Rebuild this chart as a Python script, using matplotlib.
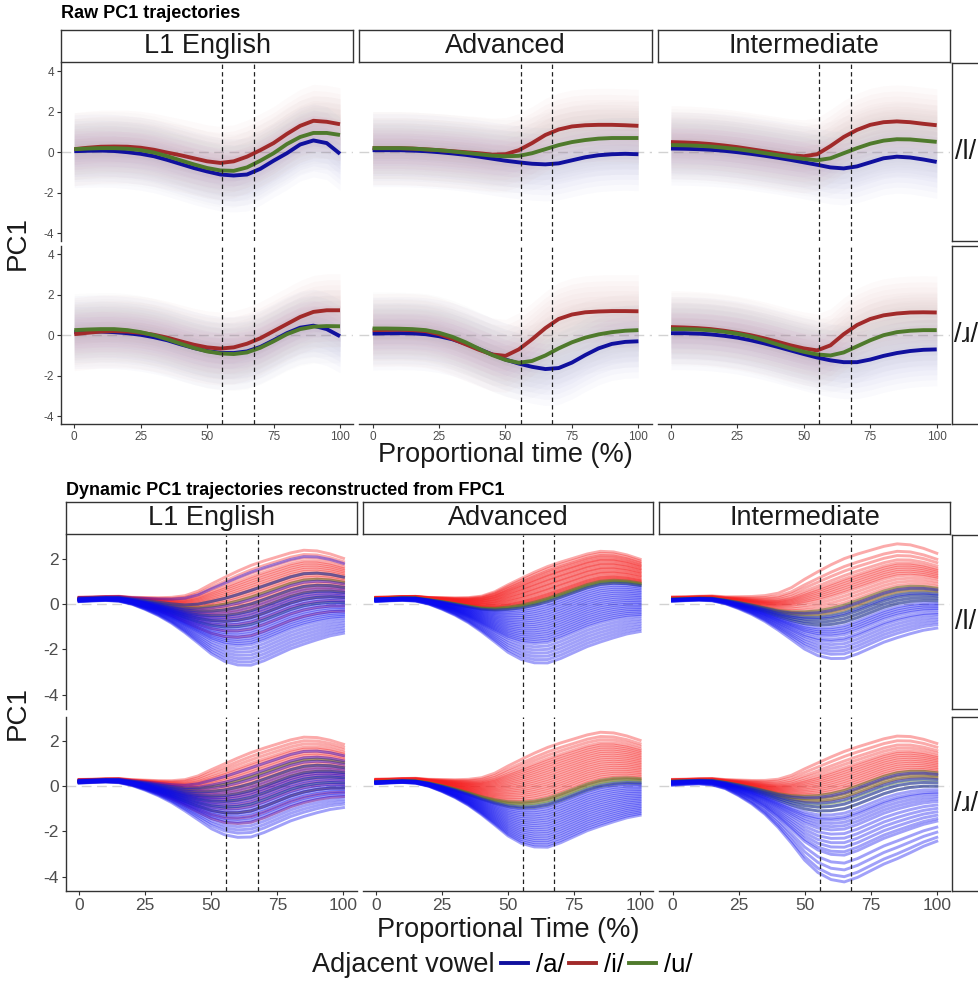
import matplotlib.pyplot as plt
import numpy as np
from matplotlib.lines import Line2D

# 글꼴 설정 (IPA 기호가 없으면 DejaVu Sans 로 대체)
plt.rcParams['font.family'] = ['Liberation Sans', 'DejaVu Sans']
plt.rcParams['axes.unicode_minus'] = False

W, H = 979, 982

# 정규화된 시간 축 (%)
time_pct = [0, 5, 10, 15, 20, 25, 30, 35, 40, 45, 50, 55, 60, 65, 70, 75, 80, 85, 90, 95, 100]
phase_bounds = [55.7, 67.6]

groups = ['L1 English', 'Advanced', 'Intermediate']
contexts = ['/l/', '/ɹ/']
vowels = ['/a/', '/i/', '/u/']

# ---- 원시 PC1 궤적의 평균 (모음별) ----
raw_l1_l_a = [0.05, 0.07, 0.08, 0.06, 0.0, -0.08, -0.2, -0.38, -0.58, -0.78, -0.95, -1.1, -1.15, -1.1, -0.82, -0.42, -0.05, 0.38, 0.58, 0.45, -0.08]
raw_l1_l_i = [0.15, 0.22, 0.27, 0.28, 0.27, 0.22, 0.12, -0.02, -0.15, -0.3, -0.45, -0.53, -0.45, -0.22, 0.1, 0.45, 0.9, 1.3, 1.55, 1.5, 1.38]
raw_l1_l_u = [0.15, 0.18, 0.2, 0.2, 0.17, 0.1, -0.02, -0.2, -0.4, -0.6, -0.78, -0.9, -0.92, -0.75, -0.42, -0.05, 0.4, 0.75, 0.95, 0.95, 0.85]

raw_adv_l_a = [0.1, 0.1, 0.1, 0.08, 0.05, 0.0, -0.06, -0.13, -0.22, -0.32, -0.42, -0.5, -0.57, -0.6, -0.55, -0.4, -0.25, -0.15, -0.1, -0.08, -0.1]
raw_adv_l_i = [0.2, 0.2, 0.2, 0.18, 0.14, 0.1, 0.05, 0.0, -0.05, -0.12, -0.1, 0.1, 0.45, 0.85, 1.12, 1.27, 1.33, 1.35, 1.35, 1.33, 1.3]
raw_adv_l_u = [0.2, 0.2, 0.2, 0.18, 0.14, 0.1, 0.04, -0.03, -0.1, -0.17, -0.2, -0.18, -0.05, 0.15, 0.35, 0.5, 0.6, 0.67, 0.7, 0.7, 0.7]

raw_int_l_a = [0.18, 0.17, 0.15, 0.12, 0.07, 0.0, -0.08, -0.17, -0.27, -0.38, -0.5, -0.62, -0.75, -0.8, -0.7, -0.5, -0.3, -0.22, -0.26, -0.36, -0.48]
raw_int_l_i = [0.5, 0.48, 0.45, 0.4, 0.33, 0.25, 0.15, 0.05, -0.05, -0.15, -0.2, -0.1, 0.3, 0.75, 1.1, 1.35, 1.48, 1.52, 1.48, 1.4, 1.33]
raw_int_l_u = [0.35, 0.34, 0.32, 0.28, 0.22, 0.15, 0.06, -0.04, -0.14, -0.24, -0.33, -0.4, -0.3, -0.05, 0.2, 0.42, 0.57, 0.64, 0.63, 0.57, 0.51]

raw_l1_r_a = [0.15, 0.17, 0.18, 0.15, 0.1, 0.02, -0.1, -0.25, -0.45, -0.63, -0.78, -0.87, -0.88, -0.8, -0.58, -0.25, 0.1, 0.37, 0.47, 0.3, -0.05]
raw_l1_r_i = [0.05, 0.12, 0.18, 0.2, 0.18, 0.12, 0.02, -0.12, -0.3, -0.47, -0.6, -0.66, -0.6, -0.42, -0.15, 0.2, 0.55, 0.9, 1.15, 1.23, 1.23]
raw_l1_r_u = [0.25, 0.28, 0.3, 0.3, 0.25, 0.15, 0.0, -0.2, -0.42, -0.63, -0.8, -0.9, -0.93, -0.85, -0.62, -0.3, 0.05, 0.3, 0.42, 0.45, 0.44]

raw_adv_r_a = [0.08, 0.09, 0.1, 0.09, 0.05, -0.05, -0.2, -0.42, -0.68, -0.95, -1.2, -1.4, -1.56, -1.67, -1.62, -1.35, -0.98, -0.65, -0.43, -0.33, -0.3]
raw_adv_r_i = [0.25, 0.26, 0.27, 0.25, 0.2, 0.05, -0.18, -0.45, -0.72, -0.95, -1.02, -0.7, -0.2, 0.35, 0.8, 1.02, 1.13, 1.17, 1.19, 1.19, 1.18]
raw_adv_r_u = [0.33, 0.33, 0.32, 0.3, 0.25, 0.12, -0.08, -0.35, -0.67, -0.98, -1.22, -1.36, -1.27, -1.0, -0.65, -0.35, -0.12, 0.04, 0.15, 0.22, 0.25]

raw_int_r_a = [0.1, 0.1, 0.08, 0.04, -0.03, -0.12, -0.25, -0.4, -0.57, -0.75, -0.93, -1.1, -1.24, -1.33, -1.33, -1.2, -1.02, -0.88, -0.78, -0.72, -0.7]
raw_int_r_i = [0.4, 0.38, 0.35, 0.3, 0.22, 0.12, 0.0, -0.15, -0.32, -0.5, -0.65, -0.75, -0.5, 0.05, 0.5, 0.8, 0.98, 1.07, 1.12, 1.13, 1.12]
raw_int_r_u = [0.3, 0.3, 0.28, 0.24, 0.17, 0.07, -0.07, -0.25, -0.45, -0.65, -0.82, -0.95, -1.0, -0.85, -0.55, -0.25, 0.0, 0.15, 0.22, 0.25, 0.25]

# 개별 토큰 궤적의 퍼짐 정도 (평균 주변 폭)
raw_spread = [0.25, 0.5, 0.75, 1.0, 1.25, 1.5, 1.8]

# ---- FPCA: 평균 함수와 FPC1 고유함수 ----
fpc_mean = [0.2, 0.22, 0.24, 0.23, 0.14, 0.02, -0.12, -0.28, -0.45, -0.58, -0.66, -0.68, -0.62, -0.5, -0.3, -0.08, 0.14, 0.3, 0.38, 0.4, 0.36]
fpc1 = [0.045, 0.04, 0.04, 0.05, 0.07, 0.12, 0.18, 0.26, 0.37, 0.52, 0.7, 0.84, 0.94, 1.0, 1.0, 0.98, 0.96, 0.94, 0.89, 0.82, 0.75]

# 토큰별 FPC1 점수
fpc_l1_l_a = [1.9, 1.1, 0.7, 0.5, 0.35, 0.2, 0.1, 0.0, -0.1, -0.2, -0.3, -0.4, -0.5, -0.6, -0.7, -0.8, -0.9, -1.0, -1.1, -1.2, -1.3, -1.45, -1.6, -1.75, -1.9, -2.05, -2.2]
fpc_l1_l_i = [2.2, 2.0, 1.85, 1.7, 1.6, 1.5, 1.4, 1.3, 1.2, 1.1, 1.0, 0.9, 0.8, 0.7, 0.6, 0.5, 0.4, 0.3, 0.2, 0.05, -0.1, -0.3, -0.6, -0.9]
fpc_l1_l_u = [1.1, 0.8, 0.5, 0.2, -0.1, -0.4]

fpc_adv_l_a = [0.6, 0.5, 0.4, 0.3, 0.2, 0.1, 0.0, -0.1, -0.2, -0.3, -0.4, -0.5, -0.6, -0.7, -0.8, -0.9, -1.0, -1.1, -1.2, -1.35, -1.5, -1.65, -1.8, -1.95, -2.1]
fpc_adv_l_i = [2.15, 2.05, 1.95, 1.9, 1.8, 1.75, 1.7, 1.6, 1.55, 1.5, 1.4, 1.35, 1.3, 1.2, 1.15, 1.1, 1.0, 0.95, 0.9, 0.85, 0.8, 0.75]
fpc_adv_l_u = [0.75, 0.7, 0.65, 0.6]

fpc_int_l_a = [0.35, 0.1, 0.0, -0.15, -0.3, -0.45, -0.55, -0.65, -0.75, -0.85, -1.0, -1.1, -1.25, -1.4, -1.55, -1.7, -1.9]
fpc_int_l_i = [2.5, 2.15, 1.95, 1.75, 1.6, 1.5, 1.4, 1.3, 1.2, 1.1, 1.0, 0.85, 0.7, 0.55, 0.4, 0.25]
fpc_int_l_u = [0.45, 0.3, 0.15, 0.0, -0.15, -0.3]

fpc_l1_r_a = [1.3, 1.0, 0.8, 0.6, 0.45, 0.3, 0.2, 0.1, 0.0, -0.1, -0.2, -0.3, -0.4, -0.5, -0.6, -0.7, -0.8, -0.9, -1.0, -1.1, -1.25, -1.4, -1.55, -1.75]
fpc_l1_r_i = [1.97, 1.8, 1.65, 1.5, 1.4, 1.3, 1.2, 1.1, 1.0, 0.9, 0.8, 0.7, 0.6, 0.5, 0.4, 0.3, 0.2, 0.1, -0.05, -0.2, -0.4, -0.6, -0.85, -1.1]
fpc_l1_r_u = [0.9, 0.6, 0.3, 0.0, -0.3, -0.6]

fpc_adv_r_a = [-0.3, -0.4, -0.5, -0.6, -0.7, -0.8, -0.9, -1.0, -1.1, -1.2, -1.3, -1.4, -1.5, -1.6, -1.7, -1.8, -1.9, -2.0, -2.1, -2.2]
fpc_adv_r_i = [2.2, 2.0, 1.85, 1.7, 1.6, 1.5, 1.4, 1.3, 1.2, 1.1, 1.0, 0.9, 0.8, 0.7, 0.6, 0.5, 0.4, 0.3, 0.2, 0.1, 0.0, -0.1]
fpc_adv_r_u = [-0.05, -0.15, -0.25, -0.35]

fpc_int_r_a = [0.2, -0.1, -0.3, -0.5, -0.7, -0.85, -0.95, -1.1, -1.25, -1.4, -1.6, -1.8, -2.0, -2.2, -2.4, -2.55, -2.9, -3.2, -3.5, -3.73]
fpc_int_r_i = [2.02, 1.8, 1.6, 1.45, 1.3, 1.2, 1.1, 1.0, 0.9, 0.8, 0.7, 0.6, 0.5, 0.4, 0.3, 0.15, 0.0]
fpc_int_r_u = [0.3, 0.15, 0.0, -0.15, -0.3, -0.5]

# 색상
mean_cols = ['#10109e', '#a12a2a', '#4f7a2c']      # /a/, /i/, /u/
haze_cols = ['#5a5ac8', '#c86464', '#9a9a9a']
fpc_cols = ['#0a0af0', '#f52020', '#557a2a']

raw_means = {
    ('L1 English', '/l/'): (raw_l1_l_a, raw_l1_l_i, raw_l1_l_u),
    ('Advanced', '/l/'): (raw_adv_l_a, raw_adv_l_i, raw_adv_l_u),
    ('Intermediate', '/l/'): (raw_int_l_a, raw_int_l_i, raw_int_l_u),
    ('L1 English', '/ɹ/'): (raw_l1_r_a, raw_l1_r_i, raw_l1_r_u),
    ('Advanced', '/ɹ/'): (raw_adv_r_a, raw_adv_r_i, raw_adv_r_u),
    ('Intermediate', '/ɹ/'): (raw_int_r_a, raw_int_r_i, raw_int_r_u),
}
fpc_scores = {
    ('L1 English', '/l/'): (fpc_l1_l_a, fpc_l1_l_i, fpc_l1_l_u),
    ('Advanced', '/l/'): (fpc_adv_l_a, fpc_adv_l_i, fpc_adv_l_u),
    ('Intermediate', '/l/'): (fpc_int_l_a, fpc_int_l_i, fpc_int_l_u),
    ('L1 English', '/ɹ/'): (fpc_l1_r_a, fpc_l1_r_i, fpc_l1_r_u),
    ('Advanced', '/ɹ/'): (fpc_adv_r_a, fpc_adv_r_i, fpc_adv_r_u),
    ('Intermediate', '/ɹ/'): (fpc_int_r_a, fpc_int_r_i, fpc_int_r_u),
}

fig = plt.figure(figsize=(W / 100, H / 100), dpi=100)


def px_axes(x0, y0, x1, y1):
    # 픽셀 좌표(좌상단 기준)로 axes 생성
    return fig.add_axes([x0 / W, 1 - y1 / H, (x1 - x0) / W, (y1 - y0) / H])


def px_text(x, y, s, **kw):
    fig.text(x / W, 1 - y / H, s, **kw)


def strip_box(x0, y0, x1, y1, label, tx=None):
    sa = px_axes(x0, y0, x1, y1)
    sa.set_xticks([])
    sa.set_yticks([])
    for sp in sa.spines.values():
        sp.set_color('#333333')
        sp.set_linewidth(1.0)
    if tx is None:
        tx = (x0 + x1) / 2
    px_text(tx, (y0 + y1) / 2, label, ha='center', va='center', fontsize=19.5, color='#1a1a1a')


def style_panel(ax, ylim, yticks, left, bottom, tick_fs):
    ax.set_xlim(-5, 105)
    ax.set_ylim(*ylim)
    ax.axhline(0, color='#d2d2d2', lw=1.0, ls=(0, (7, 4)), zorder=0)
    for b in phase_bounds:
        ax.axvline(b, color='#222222', lw=0.9, ls=(0, (3.5, 2.5)), zorder=5)
    for side in ['top', 'right']:
        ax.spines[side].set_visible(False)
    ax.spines['left'].set_visible(left)
    ax.spines['bottom'].set_visible(bottom)
    for side in ['left', 'bottom']:
        ax.spines[side].set_color('#333333')
        ax.spines[side].set_linewidth(1.0)
    ax.set_xticks([0, 25, 50, 75, 100])
    ax.set_yticks(yticks)
    ax.tick_params(axis='both', colors='#333333', labelcolor='#4d4d4d', labelsize=tick_fs,
                   length=3, width=0.8, pad=2)
    ax.tick_params(axis='y', left=left, labelleft=left)
    ax.tick_params(axis='x', bottom=bottom, labelbottom=bottom)
    ax.set_facecolor('none')


def draw_raw(ax, means):
    t = np.array(time_pct)
    # 개별 토큰 궤적이 만드는 옅은 구름
    for vals, col in zip(means, haze_cols):
        m = np.array(vals)
        for w in raw_spread:
            ax.fill_between(t, m - w, m + w, color=col, alpha=0.028, lw=0)
    for vals, col in zip(means, mean_cols):
        ax.plot(t, vals, color=col, lw=2.8, solid_capstyle='butt', zorder=4)


def draw_fpc(ax, scores):
    t = np.array(time_pct)
    mu = np.array(fpc_mean)
    phi = np.array(fpc1)
    # 그리는 순서: /i/, /u/, /a/
    for k in [1, 2, 0]:
        a = 0.5 if k == 2 else 0.38
        for s in scores[k]:
            ax.plot(t, mu + s * phi, color=fpc_cols[k], alpha=a, lw=2.1, zorder=2)


# ===================== 위: 원시 PC1 궤적 =====================
top_cols = [(61, 353.3), (359.3, 651.7), (657.7, 950)]
top_rows = [(63, 241), (246, 424)]
for j, g in enumerate(groups):
    strip_box(top_cols[j][0], 30, top_cols[j][1], 62, g)
for i, c in enumerate(contexts):
    strip_box(952, top_rows[i][0], 1000, top_rows[i][1], c, tx=966)
for i, c in enumerate(contexts):
    for j, g in enumerate(groups):
        ax = px_axes(top_cols[j][0], top_rows[i][0], top_cols[j][1], top_rows[i][1])
        draw_raw(ax, raw_means[(g, c)])
        style_panel(ax, (-4.38, 4.4), [-4, -2, 0, 2, 4], j == 0, i == 1, 8.5)

px_text(61, 14, 'Raw PC1 trajectories', ha='left', va='center', fontsize=13, fontweight='bold')
px_text(505.5, 455, 'Proportional time (%)', ha='center', va='center', fontsize=19.5, color='#1a1a1a')
px_text(18, 243, 'PC1', ha='center', va='center', rotation=90, fontsize=20, color='#1a1a1a')

# ===================== 아래: FPC1 재구성 궤적 =====================
bot_cols = [(66, 356.7), (362.7, 653.3), (659.3, 950)]
bot_rows = [(535, 709), (717, 891)]
for j, g in enumerate(groups):
    strip_box(bot_cols[j][0], 502, bot_cols[j][1], 534, g)
for i, c in enumerate(contexts):
    strip_box(952, bot_rows[i][0], 1000, bot_rows[i][1], c, tx=966)
for i, c in enumerate(contexts):
    for j, g in enumerate(groups):
        ax = px_axes(bot_cols[j][0], bot_rows[i][0], bot_cols[j][1], bot_rows[i][1])
        draw_fpc(ax, fpc_scores[(g, c)])
        style_panel(ax, (-4.63, 3.04), [-4, -2, 0, 2], j == 0, i == 1, 12.5)

px_text(66, 490, 'Dynamic PC1 trajectories reconstructed from FPC1', ha='left', va='center',
        fontsize=13, fontweight='bold')
px_text(508, 930, 'Proportional Time (%)', ha='center', va='center', fontsize=19.5, color='#1a1a1a')
px_text(18, 713, 'PC1', ha='center', va='center', rotation=90, fontsize=20, color='#1a1a1a')

# ===================== 범례 =====================
px_text(495, 965, 'Adjacent vowel', ha='right', va='center', fontsize=19.5, color='#1a1a1a')
handles = [Line2D([], [], color=c, lw=2.8) for c in mean_cols]
fig.legend(handles, vowels, ncol=3, loc='center left', bbox_to_anchor=(501 / W, 1 - 965 / H),
           frameon=False, fontsize=18.5, handlelength=1.05, handletextpad=0.3,
           columnspacing=0.2, borderpad=0, borderaxespad=0)

fig.savefig('out.png', dpi=100)
